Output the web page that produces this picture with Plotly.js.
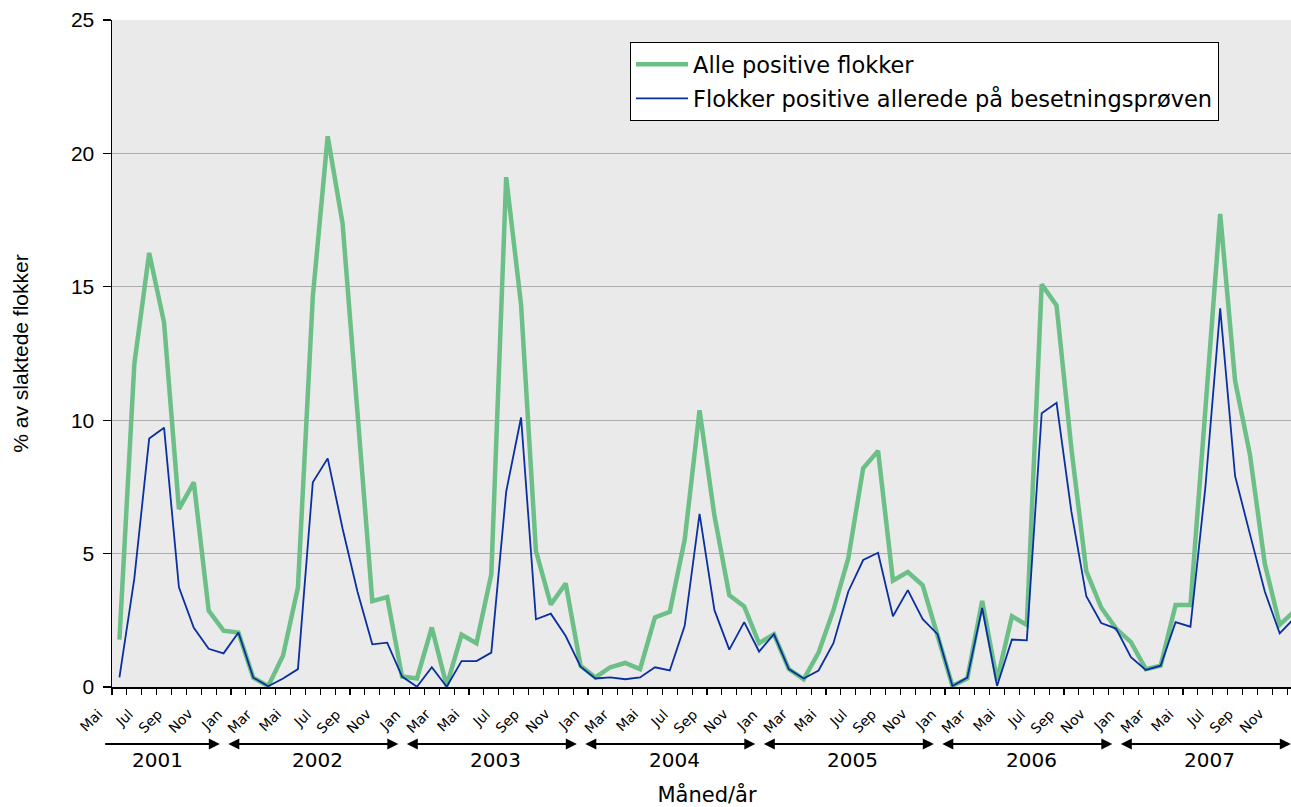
<!DOCTYPE html>
<html><head><meta charset="utf-8">
<script src="https://cdn.plot.ly/plotly-3.0.1.min.js"></script>
<style>
html,body{margin:0;padding:0;background:#fff;overflow:hidden;width:1291px;height:807px}
#chart{width:1302px;height:807px}
</style>
</head><body><div id="chart"></div>
<script>
// Month names (Norwegian) and years
const monthNames = ['Jan','Feb','Mar','Apr','Mai','Jun','Jul','Aug','Sep','Okt','Nov','Des'];
const years = [2001, 2002, 2003, 2004, 2005, 2006, 2007];
const firstMonth = 4; // series starts Mai 2001

// % av slaktede flokker – alle positive flokker (Mai 2001 – Des 2007)
const allePositive = [
  1.78, 12.1, 16.27, 13.66, 6.67, 7.67, 2.86, 2.11,
  2.04, 0.35, 0.03, 1.18, 3.73, 14.63, 20.64, 17.38, 10.3, 3.22, 3.37, 0.39,
  0.32, 2.23, 0.04, 1.96, 1.64, 4.23, 19.11, 14.33, 5.1, 3.09, 3.88, 0.8,
  0.36, 0.74, 0.9, 0.67, 2.61, 2.82, 5.52, 10.37, 6.42, 3.44, 3.02, 1.64,
  1.98, 0.67, 0.29, 1.29, 2.88, 4.83, 8.2, 8.85, 3.99, 4.31, 3.81, 1.98,
  0.04, 0.32, 3.23, 0.25, 2.65, 2.33, 15.09, 14.3, 8.92, 4.34, 2.98, 2.19,
  1.68, 0.67, 0.8, 3.07, 3.07, 10.37, 17.73, 11.48, 8.71, 4.62, 2.33, 2.85
];
// Flokker positive allerede på besetningsprøven
const besetningsproeven = [
  0.36, 4.06, 9.31, 9.72, 3.74, 2.22, 1.43, 1.26,
  2.04, 0.35, 0.03, 0.32, 0.67, 7.67, 8.57, 5.94, 3.58, 1.6, 1.66, 0.39,
  0.01, 0.74, 0.01, 0.97, 0.97, 1.29, 7.32, 10.1, 2.54, 2.75, 1.91, 0.76,
  0.32, 0.36, 0.29, 0.36, 0.74, 0.62, 2.29, 6.49, 2.88, 1.4, 2.43, 1.33,
  1.98, 0.67, 0.32, 0.62, 1.64, 3.58, 4.76, 5.03, 2.65, 3.63, 2.54, 1.98,
  0.04, 0.35, 2.96, 0.04, 1.78, 1.75, 10.26, 10.65, 6.56, 3.4, 2.4, 2.19,
  1.12, 0.64, 0.8, 2.43, 2.26, 7.46, 14.19, 7.91, 5.73, 3.58, 2.01, 2.59
];
const seriesNames = ['Alle positive flokker', 'Flokker positive allerede på besetningsprøven'];
const yTickVals = [0, 5, 10, 15, 20, 25];

// Build month categories
const n = allePositive.length;
const monthIdx = [], yearOf = [], categories = [];
for (let i = 0; i < n; i++) {
  const m = (firstMonth + i) % 12;
  const y = years[0] + Math.floor((firstMonth + i) / 12);
  monthIdx.push(m); yearOf.push(y); categories.push(monthNames[m] + ' ' + y);
}
const xIdx = categories.map((_, i) => i);
const labelIdx = xIdx.filter(i => monthIdx[i] % 2 === 0);
const boundaries = [];
for (let i = 0; i <= n; i++) boundaries.push(i - 0.5);

const traces = [
  {x: xIdx, y: allePositive, customdata: categories, type: 'scatter', mode: 'lines',
   name: seriesNames[0], legendgroup: 'a',
   line: {color: '#6cbf87', width: 4.5}},
  {x: xIdx, y: besetningsproeven, customdata: categories, type: 'scatter', mode: 'lines',
   name: seriesNames[1], legendgroup: 'b',
   line: {color: '#0a2fa0', width: 1.8}}
];

const pY = px => (687 - px) / 667;
const pX = idx => (idx + 0.5) / n;  // category index -> paper x
const annotations = [];
// rotated month labels (every second month)
labelIdx.forEach(i => {
  annotations.push({
    x: pX(i - 0.7), y: pY(703), xref: 'paper', yref: 'paper', showarrow: false,
    text: monthNames[monthIdx[i]], textangle: -45, xanchor: 'right', yanchor: 'top',
    font: {family: 'DejaVu Sans', size: 14, color: '#000'}
  });
});
// year arrows + labels below axis
years.forEach((yr, k) => {
  const idx = xIdx.filter(i => yearOf[i] === yr);
  const s = idx[0], e = idx[idx.length - 1];
  const start = k === 0 ? s - 1.06 : s - 0.78;
  const end = e - 0.25;
  annotations.push({
    x: end, y: pY(744), xref: 'x', yref: 'paper',
    ax: start, ay: 0, axref: 'x', ayref: 'pixel',
    showarrow: true, text: '', arrowhead: 2, startarrowhead: 2,
    arrowside: k === 0 ? 'end' : 'end+start',
    arrowsize: 1.1, startarrowsize: 1.1, arrowwidth: 2, arrowcolor: '#000',
    standoff: 0, startstandoff: 0
  });
  const cx = k === 0 ? 2.55 : (s + e) / 2 - 0.2;
  annotations.push({
    x: cx, y: pY(760), xref: 'x', yref: 'paper', showarrow: false,
    text: String(yr), xanchor: 'center', yanchor: 'middle',
    font: {family: 'DejaVu Sans', size: 20, color: '#000'}
  });
});

const layout = {
  width: 1302, height: 807,
  margin: {l: 112, r: 0, t: 20, b: 120},
  paper_bgcolor: '#ffffff', plot_bgcolor: '#eaeaea',
  showlegend: true,
  legend: {
    x: (630 - 112) / 1190, y: pY(42), xanchor: 'left', yanchor: 'top',
    bgcolor: '#ffffff', bordercolor: '#000', borderwidth: 1,
    font: {family: 'DejaVu Sans', size: 22.5, color: '#000'},
    traceorder: 'grouped', tracegroupgap: 2, itemwidth: 52
  },
  xaxis: {
    range: [-0.5, n - 0.5], tickmode: 'array', tickvals: boundaries,
    ticks: 'outside', ticklen: 6, tickcolor: '#000', tickwidth: 1.2,
    showticklabels: false, showline: true, linecolor: '#000', linewidth: 1.5,
    showgrid: false, zeroline: false,
    title: {text: 'Måned/år', font: {family: 'DejaVu Sans', size: 21, color: '#000'}, standoff: 101},
    automargin: false, fixedrange: true
  },
  yaxis: {
    range: [0, 25], tickmode: 'array', tickvals: yTickVals,
    ticks: 'outside', ticklen: 8, tickcolor: '#000', tickwidth: 1.2,
    showline: true, linecolor: '#000', linewidth: 1.5,
    showgrid: true, gridcolor: '#acacac', gridwidth: 1.2, zeroline: false,
    tickfont: {family: 'Liberation Sans', size: 21, color: '#000'},
    ticklabelstandoff: 4,
    title: {text: '% av slaktede flokker', font: {family: 'Liberation Sans', size: 21, color: '#000'}, standoff: 36},
    automargin: false, fixedrange: true
  },
  annotations: annotations
};

Plotly.newPlot('chart', traces, layout, {displayModeBar: false, staticPlot: true});
</script>
</body></html>
